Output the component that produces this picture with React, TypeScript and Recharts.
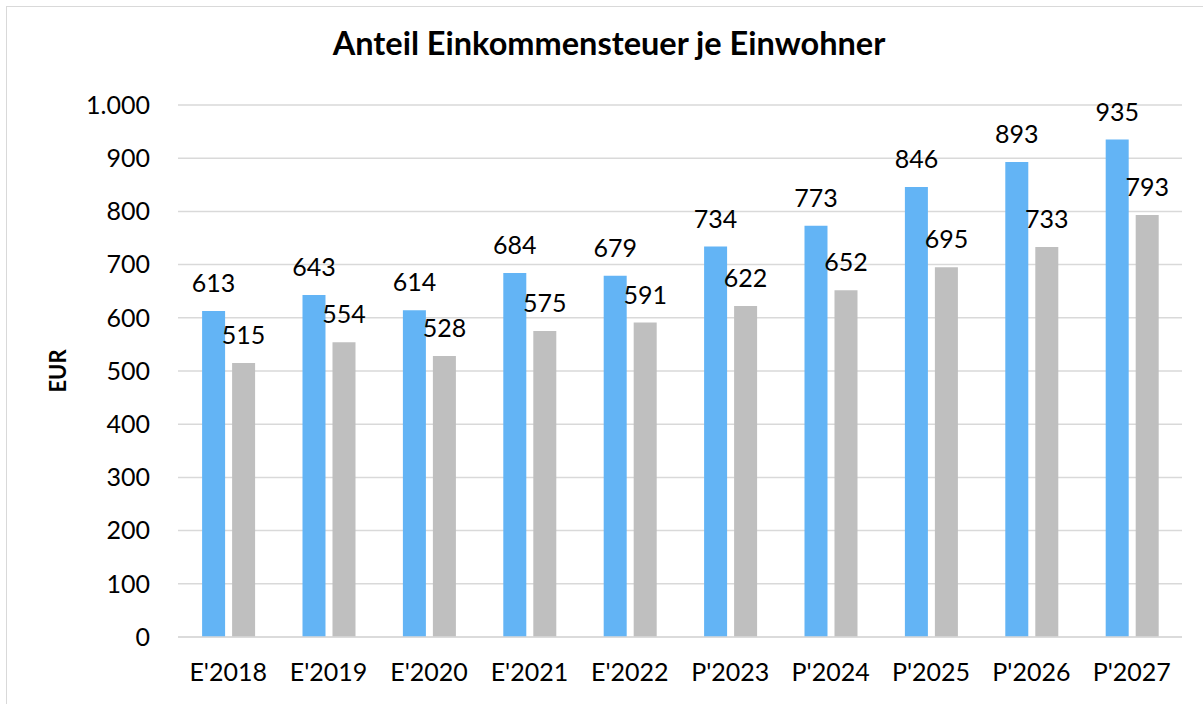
import React from 'react';
import { BarChart, Bar, XAxis, YAxis, CartesianGrid, LabelList } from 'recharts';

const categories = ["E'2018", "E'2019", "E'2020", "E'2021", "E'2022", "P'2023", "P'2024", "P'2025", "P'2026", "P'2027"];
const seriesA = [613, 643, 614, 684, 679, 734, 773, 846, 893, 935];
const seriesB = [515, 554, 528, 575, 591, 622, 652, 695, 733, 793];
const yTicks = [0, 100, 200, 300, 400, 500, 600, 700, 800, 900, 1000];
const title = 'Anteil Einkommensteuer je Einwohner';
const yTitle = 'EUR';

const data = categories.map((c, i) => ({ name: c, a: seriesA[i], b: seriesB[i] }));

const FONT = 'Lato, "Open Sans", sans-serif';
const fmt = (v: number) => v.toLocaleString('de-DE');

export default function App() {
  return (
    <div style={{ position: 'absolute', left: 0, top: 0, width: 1203, height: 704, overflow: 'hidden', background: '#fff' }}>
      <div style={{ position: 'absolute', left: 6, top: 6, width: 1240, height: 740, border: '1.5px solid #d9d9d9', boxSizing: 'border-box' }} />
      <div style={{ position: 'absolute', left: 0, top: 0 }}>
        <BarChart width={1203} height={704} data={data} margin={{ top: 105, right: 21, bottom: 0, left: 0 }} barCategoryGap="24%" barGap={7}>
          <CartesianGrid vertical={false} stroke="#d9d9d9" strokeWidth={1.5} />
          <XAxis dataKey="name" height={67} axisLine={{ stroke: '#d9d9d9', strokeWidth: 1.5 }} tickLine={false} tickSize={0} tickMargin={26}
            tick={{ fill: '#000', fontSize: 25, fontFamily: FONT }} interval={0} />
          <YAxis width={178} domain={[0, 1000]} ticks={yTicks} axisLine={false} tickLine={false} tickSize={0} tickMargin={28}
            tickFormatter={fmt} tick={{ fill: '#000', fontSize: 25, fontFamily: FONT }} interval={0} />
          <Bar dataKey="a" fill="#63B4F5" isAnimationActive={false}>
            <LabelList dataKey="a" position="top" offset={19} fill="#000" fontSize={25} fontFamily={FONT} />
          </Bar>
          <Bar dataKey="b" fill="#BFBFBF" isAnimationActive={false}>
            <LabelList dataKey="b" position="top" offset={19} fill="#000" fontSize={25} fontFamily={FONT} />
          </Bar>
        </BarChart>
      </div>
      <svg width={1203} height={704} style={{ position: 'absolute', left: 0, top: 0, pointerEvents: 'none' }}>
        <text x={609} y={55} textAnchor="middle" fontFamily={FONT} fontWeight="bold" fontSize={32.5} fill="#000">{title}</text>
        <text x={0} y={0} transform="translate(66,371) rotate(-90)" textAnchor="middle" fontFamily={FONT} fontWeight="bold" fontSize={22} fill="#000">{yTitle}</text>
      </svg>
    </div>
  );
}
